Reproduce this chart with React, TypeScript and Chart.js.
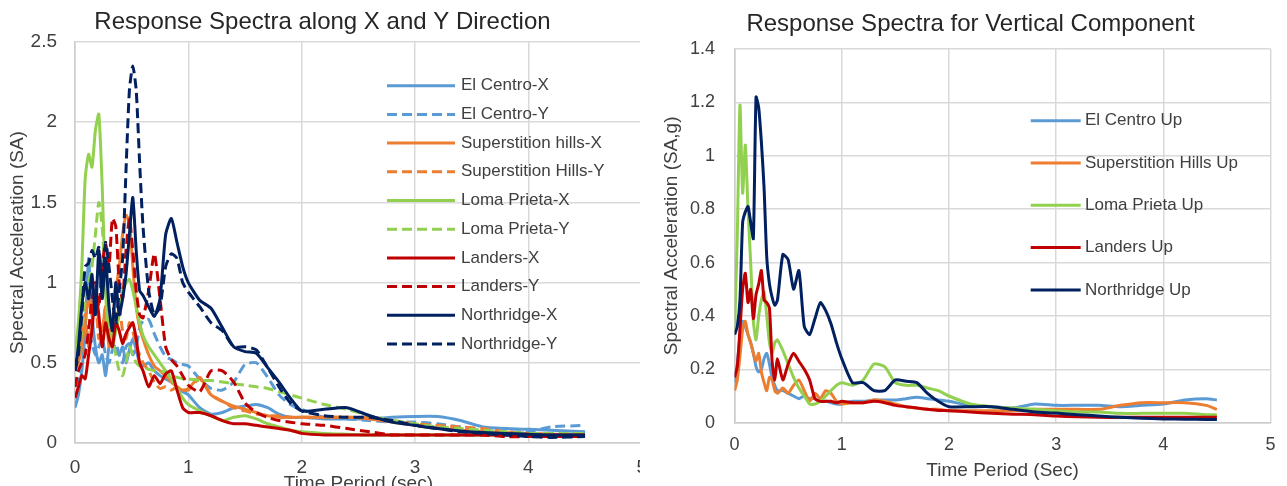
import React, { useEffect, useRef } from "react";
import { Chart, registerables } from "chart.js";

Chart.register(...registerables);

const FONT = "'Liberation Sans', Arial, Helvetica, sans-serif";

// ---------- Left chart: X / Y directions ----------
const titleXY = "Response Spectra along X and Y Direction";
const xTitleXY = "Time Period (sec)";
const yTitleXY = "Spectral Acceleration (SA)";
const periodsXY = [0, 0.03, 0.06, 0.09, 0.12, 0.15, 0.18, 0.21, 0.24, 0.27, 0.3, 0.33, 0.36, 0.39, 0.42, 0.45, 0.48, 0.51, 0.54, 0.57, 0.6, 0.65, 0.7, 0.75, 0.8, 0.85, 0.9, 0.95, 1.0, 1.1, 1.2, 1.3, 1.4, 1.5, 1.6, 1.7, 1.8, 1.9, 2.0, 2.2, 2.4, 2.6, 2.8, 3.0, 3.2, 3.4, 3.6, 3.8, 4.0, 4.2, 4.5];

const elCentroX = [0.22, 0.3, 0.45, 0.7, 1.15, 0.8, 0.6, 0.5, 0.55, 0.42, 0.6, 0.62, 0.58, 0.55, 0.6, 0.5, 0.58, 0.65, 0.58, 0.5, 0.48, 0.5, 0.45, 0.42, 0.4, 0.38, 0.35, 0.32, 0.3, 0.22, 0.18, 0.19, 0.22, 0.23, 0.24, 0.22, 0.18, 0.16, 0.16, 0.15, 0.15, 0.15, 0.16, 0.165, 0.165, 0.14, 0.1, 0.09, 0.085, 0.08, 0.07];
const elCentroY = [0.35, 0.4, 0.5, 0.6, 0.7, 0.62, 0.55, 0.6, 0.65, 0.55, 0.5, 0.58, 0.62, 0.55, 0.5, 0.6, 0.62, 0.55, 0.6, 0.72, 0.76, 0.77, 0.68, 0.6, 0.54, 0.52, 0.5, 0.49, 0.48, 0.4, 0.34, 0.33, 0.38, 0.49, 0.5, 0.41, 0.3, 0.24, 0.21, 0.16, 0.15, 0.14, 0.13, 0.13, 0.12, 0.1, 0.08, 0.07, 0.07, 0.1, 0.11];
const superstitionX = [0.45, 0.5, 0.6, 0.75, 0.9, 0.8, 0.95, 0.75, 0.7, 0.85, 0.6, 0.75, 0.95, 1.1, 1.3, 1.42, 1.38, 1.1, 0.85, 0.72, 0.65, 0.55, 0.48, 0.45, 0.42, 0.38, 0.35, 0.33, 0.34, 0.41, 0.3, 0.26, 0.23, 0.21, 0.19, 0.17, 0.16, 0.16, 0.16, 0.16, 0.16, 0.15, 0.13, 0.11, 0.09, 0.08, 0.07, 0.065, 0.06, 0.055, 0.05];
const superstitionY = [0.5, 0.55, 0.7, 0.8, 0.6, 0.75, 0.9, 0.65, 0.7, 0.85, 0.7, 0.6, 0.8, 0.85, 0.7, 0.65, 0.75, 0.7, 0.6, 0.55, 0.5, 0.45, 0.38, 0.34, 0.35, 0.33, 0.35, 0.33, 0.33, 0.4, 0.3, 0.26, 0.22, 0.2, 0.18, 0.17, 0.17, 0.16, 0.16, 0.16, 0.16, 0.16, 0.14, 0.12, 0.11, 0.1, 0.09, 0.07, 0.06, 0.05, 0.04];
const lomaPrietaX = [0.55, 0.75, 1.1, 1.65, 1.8, 1.72, 1.95, 2.05, 1.6, 0.95, 0.65, 0.6, 0.7, 0.8, 0.95, 1.0, 1.02, 0.95, 0.85, 0.75, 0.67, 0.6, 0.55, 0.5, 0.45, 0.4, 0.34, 0.28, 0.24, 0.2, 0.17, 0.14, 0.16, 0.17, 0.15, 0.12, 0.1, 0.08, 0.07, 0.06, 0.055, 0.05, 0.05, 0.05, 0.05, 0.05, 0.05, 0.05, 0.05, 0.05, 0.05];
const lomaPrietaY = [0.45, 0.55, 0.7, 0.9, 1.0, 1.1, 1.3, 1.5, 1.35, 1.0, 0.8, 0.65, 0.55, 0.45, 0.42, 0.5, 0.6, 0.55, 0.5, 0.48, 0.47, 0.46, 0.45, 0.45, 0.44, 0.42, 0.41, 0.4, 0.4, 0.39, 0.39, 0.38, 0.37, 0.36, 0.35, 0.34, 0.32, 0.3, 0.28, 0.24, 0.21, 0.17, 0.14, 0.12, 0.1, 0.09, 0.08, 0.07, 0.06, 0.06, 0.06];
const landersX = [0.28, 0.35, 0.42, 0.4, 0.55, 0.7, 0.95, 0.8, 0.6, 0.75, 0.65, 0.6, 0.75, 0.7, 0.62, 0.68, 0.72, 0.75, 0.65, 0.5, 0.45, 0.35, 0.42, 0.37, 0.43, 0.45, 0.33, 0.22, 0.19, 0.19, 0.17, 0.14, 0.12, 0.12, 0.11, 0.1, 0.09, 0.08, 0.06, 0.05, 0.05, 0.05, 0.05, 0.05, 0.05, 0.05, 0.05, 0.05, 0.05, 0.05, 0.05];
const landersY = [0.35, 0.45, 0.5, 0.55, 0.7, 0.9, 1.0, 0.85, 1.1, 1.25, 1.1, 1.4, 1.35, 1.0, 0.9, 1.2, 1.4, 1.2, 0.95, 0.8, 0.78, 0.95, 1.18, 0.9, 0.6, 0.52, 0.48, 0.42, 0.36, 0.32, 0.45, 0.45, 0.38, 0.25, 0.19, 0.16, 0.14, 0.13, 0.12, 0.11, 0.09, 0.07, 0.05, 0.05, 0.05, 0.05, 0.05, 0.04, 0.04, 0.04, 0.04];
const northridgeX = [0.45, 0.6, 0.85, 1.0, 0.9, 1.05, 0.8, 1.2, 0.9, 1.15, 0.85, 0.7, 1.0, 0.8, 0.9, 1.05, 1.3, 1.53, 1.2, 0.95, 0.92, 0.85, 0.79, 0.9, 1.3, 1.4, 1.25, 1.1, 1.0, 0.89, 0.84, 0.72, 0.6, 0.57, 0.56, 0.47, 0.38, 0.28, 0.2, 0.21, 0.22, 0.17, 0.13, 0.11, 0.09, 0.075, 0.065, 0.06, 0.055, 0.05, 0.05];
const northridgeY = [0.45, 0.55, 0.8, 1.1, 1.12, 1.2, 1.15, 1.22, 1.0, 1.25, 1.1, 0.9, 0.75, 0.95, 1.15, 1.7, 2.2, 2.35, 2.2, 1.75, 1.35, 0.95, 0.8, 0.85, 1.1, 1.18, 1.15, 1.0, 0.94, 0.85, 0.75, 0.7, 0.6, 0.6, 0.58, 0.47, 0.35, 0.25, 0.2, 0.17, 0.16, 0.16, 0.14, 0.11, 0.09, 0.07, 0.06, 0.05, 0.04, 0.035, 0.04];

// ---------- Right chart: vertical component ----------
const titleUp = "Response Spectra for Vertical Component";
const xTitleUp = "Time Period (Sec)";
const yTitleUp = "Spectral Acceleration (SA,g)";
const periodsUp = [0, 0.025, 0.05, 0.075, 0.1, 0.125, 0.15, 0.175, 0.2, 0.225, 0.25, 0.275, 0.3, 0.325, 0.35, 0.375, 0.4, 0.45, 0.5, 0.55, 0.6, 0.65, 0.7, 0.75, 0.8, 0.85, 0.9, 0.95, 1.0, 1.1, 1.2, 1.3, 1.4, 1.5, 1.6, 1.7, 1.8, 1.9, 2.0, 2.2, 2.4, 2.6, 2.8, 3.0, 3.2, 3.4, 3.6, 3.8, 4.0, 4.2, 4.4, 4.5];

const elCentroUp = [0.15, 0.22, 0.32, 0.38, 0.36, 0.33, 0.3, 0.26, 0.21, 0.19, 0.2, 0.24, 0.26, 0.22, 0.17, 0.14, 0.12, 0.12, 0.11, 0.1, 0.09, 0.1, 0.09, 0.09, 0.08, 0.08, 0.075, 0.07, 0.07, 0.08, 0.08, 0.085, 0.085, 0.085, 0.09, 0.095, 0.09, 0.085, 0.08, 0.065, 0.06, 0.055, 0.07, 0.065, 0.065, 0.065, 0.06, 0.065, 0.07, 0.085, 0.09, 0.085];
const superstitionUp = [0.12, 0.16, 0.25, 0.35, 0.38, 0.33, 0.3, 0.26, 0.23, 0.26, 0.19, 0.15, 0.12, 0.17, 0.16, 0.12, 0.11, 0.13, 0.11, 0.14, 0.16, 0.12, 0.08, 0.11, 0.09, 0.12, 0.11, 0.08, 0.07, 0.075, 0.075, 0.085, 0.08, 0.07, 0.06, 0.055, 0.05, 0.05, 0.045, 0.045, 0.045, 0.045, 0.05, 0.05, 0.05, 0.05, 0.065, 0.075, 0.075, 0.075, 0.065, 0.05];
const lomaPrietaUp = [0.34, 0.7, 1.19, 0.86, 1.04, 0.8, 0.6, 0.38, 0.31, 0.4, 0.46, 0.49, 0.4, 0.3, 0.26, 0.3, 0.31, 0.27, 0.22, 0.17, 0.13, 0.1, 0.07, 0.07, 0.08, 0.1, 0.12, 0.14, 0.15, 0.14, 0.16, 0.22, 0.21, 0.15, 0.14, 0.14, 0.13, 0.12, 0.1, 0.07, 0.06, 0.055, 0.05, 0.045, 0.04, 0.04, 0.035, 0.035, 0.035, 0.035, 0.03, 0.03];
const landersUp = [0.17, 0.21, 0.35, 0.5, 0.56, 0.45, 0.5, 0.39, 0.48, 0.52, 0.57, 0.46, 0.45, 0.43, 0.23, 0.16, 0.24, 0.16, 0.22, 0.26, 0.23, 0.2, 0.16, 0.09, 0.08, 0.08, 0.08, 0.075, 0.08, 0.075, 0.075, 0.08, 0.075, 0.065, 0.06, 0.055, 0.05, 0.046, 0.045, 0.04, 0.035, 0.032, 0.03, 0.025, 0.022, 0.02, 0.02, 0.02, 0.02, 0.02, 0.02, 0.02];
const northridgeUp = [0.33, 0.36, 0.46, 0.75, 0.79, 0.81, 0.75, 0.69, 1.22, 1.18, 1.05, 0.88, 0.62, 0.52, 0.47, 0.44, 0.46, 0.63, 0.61, 0.5, 0.57, 0.36, 0.33, 0.39, 0.45, 0.42, 0.37, 0.3, 0.24, 0.15, 0.15, 0.12, 0.12, 0.16, 0.155, 0.15, 0.11, 0.08, 0.06, 0.06, 0.06, 0.05, 0.04, 0.036, 0.03, 0.025, 0.02, 0.017, 0.014, 0.013, 0.012, 0.012];

const C_BLUE = "#5B9BD5";
const C_ORANGE = "#ED7D31";
const C_GREEN = "#92D050";
const C_RED = "#C00000";
const C_NAVY = "#002060";
const DASH = [10, 5];

const seriesXY = [
  { label: "El Centro-X", values: elCentroX, color: C_BLUE, dashed: false },
  { label: "El Centro-Y", values: elCentroY, color: C_BLUE, dashed: true },
  { label: "Superstition hills-X", values: superstitionX, color: C_ORANGE, dashed: false },
  { label: "Superstition Hills-Y", values: superstitionY, color: C_ORANGE, dashed: true },
  { label: "Loma Prieta-X", values: lomaPrietaX, color: C_GREEN, dashed: false },
  { label: "Loma Prieta-Y", values: lomaPrietaY, color: C_GREEN, dashed: true },
  { label: "Landers-X", values: landersX, color: C_RED, dashed: false },
  { label: "Landers-Y", values: landersY, color: C_RED, dashed: true },
  { label: "Northridge-X", values: northridgeX, color: C_NAVY, dashed: false },
  { label: "Northridge-Y", values: northridgeY, color: C_NAVY, dashed: true },
];

const seriesUp = [
  { label: "El Centro Up", values: elCentroUp, color: C_BLUE, dashed: false },
  { label: "Superstition Hills Up", values: superstitionUp, color: C_ORANGE, dashed: false },
  { label: "Loma Prieta Up", values: lomaPrietaUp, color: C_GREEN, dashed: false },
  { label: "Landers Up", values: landersUp, color: C_RED, dashed: false },
  { label: "Northridge Up", values: northridgeUp, color: C_NAVY, dashed: false },
];

const manualLegend = {
  id: "manualLegend",
  afterDatasetsDraw(chart: any, _args: any, opts: any) {
    const { ctx } = chart;
    ctx.save();
    chart.data.datasets.forEach((ds: any, i: number) => {
      const y = opts.y0 + i * opts.dy;
      ctx.strokeStyle = ds.borderColor;
      ctx.lineWidth = 3;
      ctx.setLineDash(ds.borderDash || []);
      ctx.beginPath();
      ctx.moveTo(opts.x0, y);
      ctx.lineTo(opts.x1, y);
      ctx.stroke();
      ctx.setLineDash([]);
      ctx.fillStyle = "#404040";
      ctx.font = `17px ${FONT}`;
      ctx.textBaseline = "middle";
      ctx.textAlign = "left";
      ctx.fillText(ds.label, opts.tx, y);
    });
    ctx.restore();
  },
};

const fmt = (v: any) => String(Math.round(Number(v) * 100) / 100);

function buildConfig(p: any) {
  const n = p.series.length;
  return {
    type: "line",
    data: {
      datasets: p.series.map((s: any, i: number) => ({
        label: s.label,
        data: p.periods.map((t: number, k: number) => ({ x: t, y: s.values[k] })),
        borderColor: s.color,
        backgroundColor: s.color,
        borderWidth: 3,
        borderDash: s.dashed ? DASH : [],
        pointRadius: 0,
        tension: 0.2,
        fill: false,
        order: n - i,
      })),
    },
    options: {
      responsive: false,
      animation: false,
      layout: { padding: p.layoutPadding },
      plugins: {
        legend: { display: false },
        tooltip: { enabled: false },
        title: {
          display: true,
          text: p.title,
          color: "#262626",
          font: { family: FONT, size: 24, weight: "normal" },
          padding: p.titlePadding,
        },
        manualLegend: p.legend,
      },
      scales: {
        x: {
          type: "linear",
          min: 0,
          max: 5,
          afterFit: (s: any) => { s.height = p.xHeight; },
          grid: { color: "#d9d9d9", lineWidth: 1.5, drawTicks: false },
          border: { color: "#cccccc", width: 1.5 },
          ticks: {
            stepSize: 1,
            padding: p.xTickPad,
            color: "#404040",
            font: { family: FONT, size: p.tickSize },
            callback: fmt,
          },
          title: {
            display: true,
            text: p.xTitle,
            color: "#404040",
            font: { family: FONT, size: 19 },
            padding: { top: 0, bottom: p.xTitleBottom },
          },
        },
        y: {
          type: "linear",
          min: 0,
          max: p.yMax,
          afterFit: (s: any) => { s.width = p.yWidth; },
          grid: { color: "#d9d9d9", lineWidth: 1.5, drawTicks: false },
          border: { color: "#cccccc", width: 1.5 },
          ticks: {
            stepSize: p.yStep,
            padding: p.yTickPad,
            color: "#404040",
            font: { family: FONT, size: p.tickSize },
            callback: fmt,
          },
          title: {
            display: true,
            text: p.yTitle,
            color: "#404040",
            font: { family: FONT, size: 19 },
            padding: { top: p.yTitleTop, bottom: 0 },
          },
        },
      },
    },
    plugins: [manualLegend],
  };
}

function ChartCanvas(props: { cfg: any; width: number; height: number; style: any }) {
  const ref = useRef<HTMLCanvasElement | null>(null);
  useEffect(() => {
    if (!ref.current) return;
    const chart = new Chart(ref.current, props.cfg);
    return () => chart.destroy();
  }, []);
  return <canvas ref={ref} width={props.width} height={props.height} style={props.style} />;
}

export default function App() {
  const leftCfg = buildConfig({
    series: seriesXY,
    periods: periodsXY,
    title: titleXY,
    xTitle: xTitleXY,
    yTitle: yTitleXY,
    yMax: 2.5,
    yStep: 0.5,
    layoutPadding: { top: 0, right: 15, bottom: 0, left: 0 },
    titlePadding: { top: 7.5, bottom: 5.7 },
    xHeight: 52,
    yWidth: 75,
    xTickPad: 13,
    yTickPad: 18,
    xTitleBottom: 0,
    yTitleTop: 6.6,
    tickSize: 19,
    legend: { x0: 387, x1: 455, tx: 461, y0: 85.7, dy: 28.7 },
  });
  const rightCfg = buildConfig({
    series: seriesUp,
    periods: periodsUp,
    title: titleUp,
    xTitle: xTitleUp,
    yTitle: yTitleUp,
    yMax: 1.4,
    yStep: 0.2,
    layoutPadding: { top: 0, right: 10, bottom: 0, left: 24 },
    titlePadding: { top: 9.8, bottom: 10.4 },
    xHeight: 63.3,
    yWidth: 70.6,
    xTickPad: 11.5,
    yTickPad: 19.6,
    xTitleBottom: 3.9,
    yTitleTop: -3.4,
    tickSize: 18,
    legend: { x0: 390.7, x1: 440.7, tx: 445, y0: 120.7, dy: 42.3 },
  });
  return (
    <div style={{ position: "fixed", left: 0, top: 0, width: 1287, height: 486, overflow: "hidden", background: "#ffffff" }}>
      <ChartCanvas cfg={leftCfg} width={660} height={495} style={{ position: "absolute", left: 0, top: 0 }} />
      <ChartCanvas cfg={rightCfg} width={647} height={486} style={{ position: "absolute", left: 640, top: 0, background: "#ffffff" }} />
    </div>
  );
}
